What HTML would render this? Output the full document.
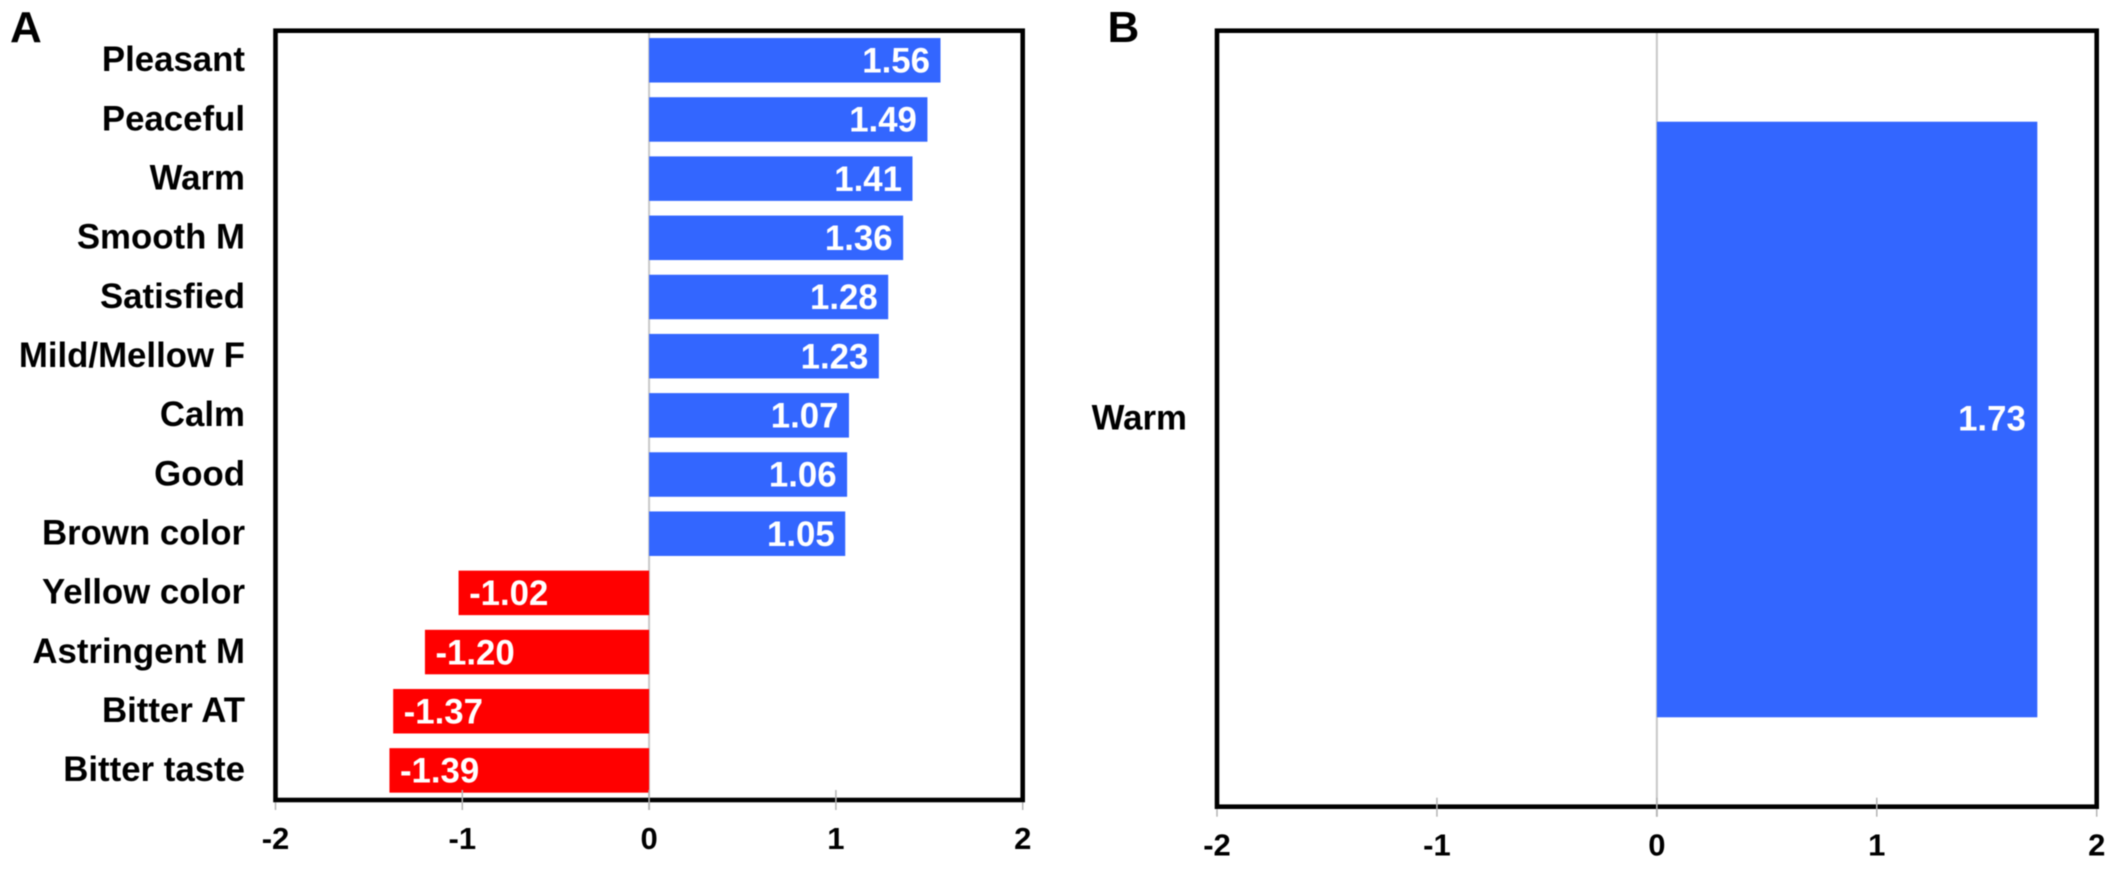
<!DOCTYPE html>
<html lang="en">
<head>
<meta charset="utf-8">
<title>Bar charts A and B</title>
<style>
html,body{margin:0;padding:0;background:#fff;}
body{width:2117px;height:874px;overflow:hidden;}
svg{display:block;filter:blur(0.45px);}
text{font-family:"Liberation Sans",Arial,sans-serif;font-weight:bold;}
</style>
</head>
<body>
<svg id="chart" xmlns="http://www.w3.org/2000/svg" width="2117" height="874" viewBox="0 0 2117 874">
  <rect x="0" y="0" width="2117" height="874" fill="#ffffff"/>
  <text x="10" y="42" font-size="44" fill="#000">A</text>
  <text x="1107.5" y="42" font-size="44" fill="#000">B</text>
</svg>
<script>
const tickValues = [-2, -1, 0, 1, 2];
const categoriesA = ["Pleasant", "Peaceful", "Warm", "Smooth M", "Satisfied", "Mild/Mellow F", "Calm", "Good", "Brown color", "Yellow color", "Astringent M", "Bitter AT", "Bitter taste"];
const valuesA = [1.56, 1.49, 1.41, 1.36, 1.28, 1.23, 1.07, 1.06, 1.05, -1.02, -1.20, -1.37, -1.39];
const categoriesB = ["Warm"];
const valuesB = [1.73];

const NS = "http://www.w3.org/2000/svg";
const svg = document.getElementById("chart");
const BLUE = "#3366ff";
const RED = "#ff0000";

function make(tag, props, text) {
  const el = document.createElementNS(NS, tag);
  for (const k in props) el.setAttribute(k, props[k]);
  if (text !== undefined) el.textContent = text;
  return el;
}

function drawPanel(p, categories, values) {
  const xScale = v => p.left + (v + 2) * (p.right - p.left) / 4;
  const band = (p.bottom - p.top) / categories.length;
  const yCenter = i => p.top + band * (i + 0.5);
  const barH = band * p.barFrac;

  const zero = make("line", {x1: xScale(0), x2: xScale(0), y1: p.top, y2: p.bottom + p.tickBelow, stroke: "#c8c8c8", "stroke-width": 2});
  
  
  svg.appendChild(zero);

  categories.forEach((cat, i) => {
    const v = values[i];
    const x0 = Math.min(xScale(0), xScale(v));
    const x1 = Math.max(xScale(0), xScale(v));
    const cy = yCenter(i) + p.barShift;

    const bar = make("rect", {x: x0, y: cy - barH / 2, width: x1 - x0, height: barH, fill: v >= 0 ? BLUE : RED});
    
    
    svg.appendChild(bar);

    const label = make("text", {x: p.labelX, y: yCenter(i) + p.labelDy, "font-size": 34.8, "text-anchor": "end", fill: "#000"}, cat);
    
    
    svg.appendChild(label);

    const valueText = make("text", {
      x: v >= 0 ? x1 - p.valuePad : x0 + p.valuePad,
      y: yCenter(i) + p.valueDy,
      "font-size": 34.8,
      "text-anchor": v >= 0 ? "end" : "start",
      fill: "#ffffff"
    }, v.toFixed(2));
    
    
    svg.appendChild(valueText);
  });

  const frame = make("rect", {x: p.left, y: p.top, width: p.right - p.left, height: p.bottom - p.top, fill: "none", stroke: "#000", "stroke-width": 4.6});
  
  
  svg.appendChild(frame);

  tickValues.forEach(t => {
    const outer = Math.abs(t) === 2;
    const tick = make("line", {x1: xScale(t), x2: xScale(t), y1: outer ? p.bottom + 2.5 : p.bottom - p.tickAbove, y2: p.bottom + p.tickBelow, stroke: "#b4b4b4", "stroke-width": 1.5});
    
    
    svg.appendChild(tick);

    const tickLabel = make("text", {x: xScale(t), y: p.bottom + 49, "font-size": 31, "text-anchor": "middle", fill: "#000"}, String(t));
    
    
    svg.appendChild(tickLabel);
  });
}

drawPanel({id: "panel-a", left: 275.5, right: 1022.7, top: 30.7, bottom: 800, barFrac: 0.752, barShift: 0, labelX: 245, labelDy: 10.8, valueDy: 12.2, valuePad: 10.5, tickAbove: 10, tickBelow: 10}, categoriesA, valuesA);
drawPanel({id: "panel-b", left: 1217, right: 2096.7, top: 30.7, bottom: 806.7, barFrac: 0.7675, barShift: 0.8, labelX: 1187, labelDy: 11, valueDy: 12, valuePad: 11.5, tickAbove: 9, tickBelow: 10}, categoriesB, valuesB);
</script>
</body>
</html>
